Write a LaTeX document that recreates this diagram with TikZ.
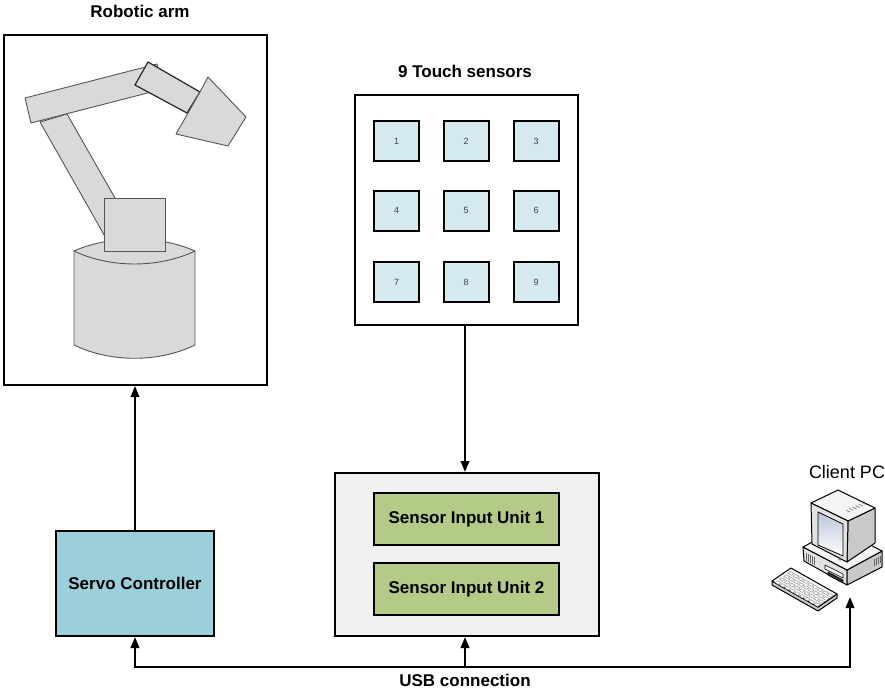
\documentclass[tikz,border=0pt]{standalone}
\usepackage{fontspec}
\setmainfont{Liberation Sans}
\usetikzlibrary{arrows.meta,calc}

\definecolor{armfill}{HTML}{D9D9D9}
\definecolor{armline}{HTML}{555555}
\definecolor{servofill}{HTML}{9CCFDC}
\definecolor{padfill}{HTML}{D5EAF0}
\definecolor{unitfill}{HTML}{B4CB87}
\definecolor{rackfill}{HTML}{F1F1F1}
\definecolor{pcwhite}{HTML}{F4F4F4}
\definecolor{pclight}{HTML}{E2E2E2}
\definecolor{pcmid}{HTML}{C9C9C9}
\definecolor{screentop}{HTML}{B9C4DA}

\tikzset{
  frame/.style={draw=black, line width=2pt, inner sep=0pt},
  title/.style={font=\fontsize{17}{20}\selectfont\bfseries},
  boxtext/.style={font=\fontsize{17}{20}\selectfont\bfseries},
  pad/.style={frame, fill=padfill, minimum width=45pt, minimum height=40pt,
              font=\fontsize{9}{11}\selectfont, text=black!75},
  unit/.style={frame, line width=1.4pt, fill=unitfill, minimum width=185pt,
               minimum height=52pt, boxtext},
  arr/.style={line width=2pt, -{Triangle[length=11pt,width=8.5pt]}},
  darr/.style={line width=2pt, {Triangle[length=11pt,width=8.5pt]}-{Triangle[length=11pt,width=8.5pt]}},
  armpart/.style={fill=armfill, draw=armline, line width=0.9pt, line join=round},
  pcpart/.style={draw=black, line width=1pt, line join=round},
}

\begin{document}
\begin{tikzpicture}[x=1pt, y=-1pt]
\useasboundingbox (0,0) rectangle (885,689);

% ---------- robotic arm ----------
\node[frame, minimum width=263pt, minimum height=350pt] (arm) at (135.5,210) {};
\node[title] (armtitle) at (140,11) {Robotic arm};

% lower link
\draw[armpart] (40,122) -- (67,114) -- (139,240) -- (107,240) -- cycle;
% base cylinder
\draw[armpart] (74,251) -- (74,345)
  .. controls (110,362.7) and (159,362.7) .. (195,345) -- (195,251)
  .. controls (159,235) and (110,235) .. (74,251) -- cycle;
\draw[armline, line width=0.9pt] (74,251) .. controls (110,268.3) and (159,268.3) .. (195,251);
% shoulder block
\draw[armpart] (104,198) rectangle (165,251);
% upper arm
\draw[armpart] (25,98) -- (157,64) -- (163,89) -- (31,123) -- cycle;
% forearm
\draw[armpart, draw=black!85, line width=1.2pt] (148,62) -- (200,92) -- (187,113) -- (135,85) -- cycle;
% gripper
\draw[armpart] (208,77) -- (246,117) -- (228,146) -- (176,134) -- (200,92) -- cycle;

% ---------- touch sensor pad ----------
\node[frame, minimum width=223pt, minimum height=230pt] (pads) at (466.5,210) {};
\node[title] (padtitle) at (465,71) {9 Touch sensors};
\node[pad] (s1) at (396.5,141) {1};
\node[pad] (s2) at (466,141) {2};
\node[pad] (s3) at (536,141) {3};
\node[pad] (s4) at (396.5,210.5) {4};
\node[pad] (s5) at (466,210.5) {5};
\node[pad] (s6) at (536,210.5) {6};
\node[pad] (s7) at (396.5,282) {7};
\node[pad] (s8) at (466,282) {8};
\node[pad] (s9) at (536,282) {9};

% ---------- sensor input units ----------
\node[frame, fill=rackfill, minimum width=264pt, minimum height=163pt] (rack) at (467,554.5) {};
\node[unit] (u1) at (466.5,519) {Sensor Input Unit 1};
\node[unit] (u2) at (466.5,589) {Sensor Input Unit 2};

% ---------- servo controller ----------
\node[frame, fill=servofill, minimum width=158pt, minimum height=105pt, boxtext]
  (servo) at (135,583.5) {Servo Controller};

% ---------- client PC ----------
\node (pclabel) at (847,472) {\fontsize{18}{21}\selectfont Client PC};
% case
\draw[pcpart, fill=pclight] (803,547) -- (847,570) -- (847,585) -- (804,561) -- cycle;
\draw[pcpart, fill=pcmid] (847,570) -- (882,551) -- (882,567) -- (847,585) -- cycle;
\draw[pcpart, fill=pcwhite] (803,547) -- (838,528) -- (882,551) -- (847,570) -- cycle;
\foreach \k in {0,...,4}
  \draw[black!60, line width=0.6pt] (806+\k*2,553+\k*1) -- (806+\k*2,561+\k*1);
\foreach \k in {0,...,3}
  \draw[black!60, line width=0.6pt] (874+\k*2,559-\k*1) -- (874+\k*2,566-\k*1);
\draw[pcpart, line width=0.6pt, fill=pcwhite] (825,565) -- (843,574) -- (843,578) -- (825,569) -- cycle;
\draw[pcpart, line width=0.6pt, fill=black!80] (828,572) -- (843,580) -- (843,583) -- (828,575) -- cycle;
% monitor
\draw[pcpart, fill=pcmid] (848,521) -- (875,508) -- (875,543) -- (847,562) -- cycle;
\draw[pcpart, fill=pcwhite] (811,503) -- (838,490) -- (875,508) -- (848,521) -- cycle;
\foreach \k in {0,...,5}
  \draw[black!55, line width=0.6pt] (850+\k*3.2,512-\k*1.5) -- (846+\k*3.2,510-\k*1.5);
\draw[pcpart, fill=pclight] (811,503) -- (848,521) -- (847,562) -- (812,544) -- cycle;
\shade[top color=screentop, bottom color=white, draw=black, line width=0.8pt]
  (818,512) -- (843,524) -- (843,556) -- (818,545) -- cycle;
\draw[black!70, line width=0.5pt] (840,559) circle (1.2);
% keyboard
\draw[pcpart, fill=pcmid] (772,581) -- (818,607) -- (837,594) -- (837,598) -- (818,611) -- (772,585) -- cycle;
\draw[pcpart, fill=pcwhite] (772,581) -- (791,568) -- (837,594) -- (818,607) -- cycle;
\foreach \r in {0,...,3}
  \foreach \c in {0,...,8}
    \draw[black!45, line width=0.4pt, fill=white, shift={(775+\c*4.9+\r*4.4,582.5+\c*2.75-\r*3.05)}]
      (0,0) -- (3.4,1.9) -- (5.8,0.2) -- (2.4,-1.7) -- cycle;

% ---------- connections ----------
\coordinate (usbR) at (850,667);
\coordinate (pcin) at (850,597);
\draw[arr] (servo.north) -- (servo.north |- arm.south);
\draw[arr] (pads.south -| 465,0) -- (465,0 |- rack.north);
\draw[darr] (servo.south) |- (usbR) -- (pcin);
\draw[arr] (465,0 |- usbR) -- (465,0 |- rack.south);
\node[title] (usb) at (465,680) {USB connection};

\end{tikzpicture}
\end{document}
